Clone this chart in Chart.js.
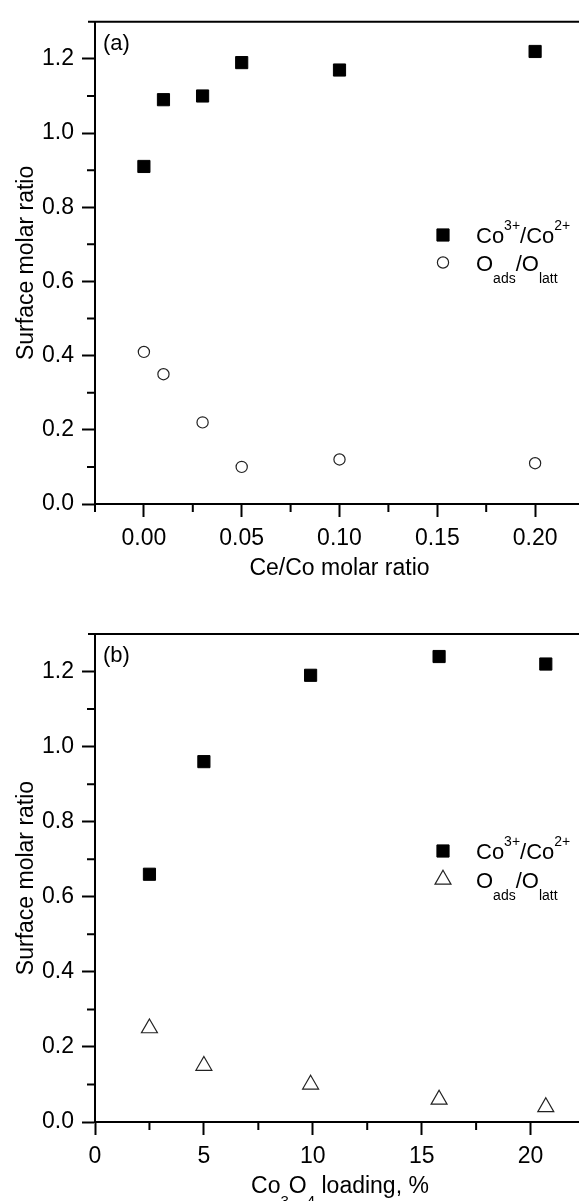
<!DOCTYPE html>
<html>
<head>
<meta charset="utf-8">
<script src="https://cdn.jsdelivr.net/npm/chart.js@4.4.1/dist/chart.umd.min.js"></script>
<style>
    html, body { margin: 0; padding: 0; background: #fff; overflow: hidden; }
    canvas { display: block; }
</style>
</head>
<body>
<canvas id="chartA" width="600" height="600"></canvas>
<canvas id="chartB" width="600" height="601"></canvas>
<script>
// (a) surface ratios against Ce/Co molar ratio
const ceCoRatio = [0, 0.01, 0.03, 0.05, 0.10, 0.20]
const cobaltA = [0.91, 1.09, 1.10, 1.19, 1.17, 1.22]
const oxygenA = [0.41, 0.35, 0.22, 0.10, 0.12, 0.11]

// (b) surface ratios against Co3O4 loading
const loading = [2.5, 5.0, 9.9, 15.8, 20.7]
const cobaltB = [0.66, 0.96, 1.19, 1.24, 1.22]
const oxygenB = [0.25, 0.15, 0.10, 0.06, 0.04]

const yTicks = [0, 0.2, 0.4, 0.6, 0.8, 1.0, 1.2]
const yMinor = [0.1, 0.3, 0.5, 0.7, 0.9, 1.1]
const xTicksA = [0, 0.05, 0.10, 0.15, 0.20]
const xMinorA = [-0.025, 0.025, 0.075, 0.125, 0.175, 0.225]
const xTicksB = [0, 5, 10, 15, 20]
const xMinorB = [2.5, 7.5, 12.5, 17.5, 22.5]

// rich text pieces: [text, shift] with 1 = superscript, -1 = subscript
const cobaltLabel = [['Co', 0], ['3+', 1], ['/Co', 0], ['2+', 1]]
const oxygenLabel = [['O', 0], ['ads', -1], ['/O', 0], ['latt', -1]]
const loadingTitle = [['Co', 0], ['3', -1], ['O', 0], ['4', -1], [' loading, %', 0]]

const FONT = '"Liberation Sans", Arial, Helvetica, sans-serif'

function drawRich(ctx, parts, x, y, size, align) {
    const small = Math.round(size * 0.64)
    const widths = parts.map(([t, s]) => {
        ctx.font = (s ? small : size) + 'px ' + FONT
        return ctx.measureText(t).width
    })
    const total = widths.reduce((a, b) => a + b, 0)
    let cx = align === 'center' ? x - total / 2 : x
    ctx.textAlign = 'left'
    ctx.textBaseline = 'alphabetic'
    parts.forEach(([t, s], i) => {
        ctx.font = (s ? small : size) + 'px ' + FONT
        const dy = s === 1 ? -size * 0.6 : s === -1 ? size * 0.55 : 0
        ctx.fillText(t, cx, y + dy)
        cx += widths[i]
    })
}

// frame, minor ticks, panel letter and legend
const panelDecor = {
    id: 'panelDecor',
    afterDraw(chart, args, opts) {
        const {ctx, chartArea: area} = chart
        const x = chart.scales.x
        const y = chart.scales.y
        ctx.save()
        ctx.strokeStyle = '#000'
        ctx.lineWidth = 2
        ctx.beginPath()
        ctx.moveTo(area.left - 7, area.top)
        ctx.lineTo(area.right, area.top)
        ctx.lineTo(area.right, area.bottom)
        ctx.stroke()

        ctx.beginPath()
        opts.xMinor.forEach(v => {
            const px = x.getPixelForValue(v)
            ctx.moveTo(px, area.bottom)
            ctx.lineTo(px, area.bottom + 8)
        })
        opts.yMinor.forEach(v => {
            const py = y.getPixelForValue(v)
            ctx.moveTo(area.left, py)
            ctx.lineTo(area.left - 8, py)
        })
        ctx.stroke()

        ctx.fillStyle = '#000'
        ctx.font = '22px ' + FONT
        ctx.textAlign = 'left'
        ctx.textBaseline = 'alphabetic'
        ctx.fillText(opts.label, area.left + 8, area.top + 28)

        chart.data.datasets.forEach((ds, i) => {
            const my = opts.legendY + i * opts.legendGap
            ctx.fillStyle = ds.backgroundColor
            ctx.strokeStyle = ds.borderColor
            ctx.lineWidth = ds.borderWidth
            Chart.helpers.drawPoint(ctx, {
                pointStyle: ds.pointStyle, radius: ds.pointRadius,
                borderWidth: ds.borderWidth, rotation: 0
            }, opts.legendX, my)
            ctx.fillStyle = '#000'
            drawRich(ctx, opts.legendText[i], opts.legendX + 33, my + 8, 22, 'left')
        })

        if (opts.xTitle) {
            ctx.fillStyle = '#000'
            drawRich(ctx, opts.xTitle, (area.left + area.right) / 2, opts.xTitleY, 23, 'center')
        }
        ctx.restore()
    }
}

const tickFont = {family: FONT, size: 23}

function axisX(min, max, ticks, height, fmt, title) {
    return {
        type: 'linear', min: min, max: max,
        afterBuildTicks: s => { s.ticks = ticks.map(v => ({value: v})) },
        afterFit: s => { s.height = height },
        border: {display: true, color: '#000', width: 2},
        grid: {drawOnChartArea: false, drawTicks: true, tickLength: 13, tickColor: '#000', tickWidth: 2},
        ticks: {color: '#000', font: tickFont, padding: 8, maxRotation: 0, autoSkip: false, callback: fmt},
        title: {
            display: !!title, text: title || '', color: '#000', font: tickFont,
            padding: {top: 0, bottom: 18}
        }
    }
}

function axisY() {
    return {
        type: 'linear', min: 0, max: 1.3,
        afterBuildTicks: s => { s.ticks = yTicks.map(v => ({value: v})) },
        afterFit: s => { s.width = 95 },
        border: {display: true, color: '#000', width: 2},
        grid: {drawOnChartArea: false, drawTicks: true, tickLength: 13, tickColor: '#000', tickWidth: 2},
        ticks: {color: '#000', font: tickFont, padding: 8, autoSkip: false, callback: v => v.toFixed(1)},
        title: {
            display: true, text: 'Surface molar ratio', color: '#000', font: tickFont,
            padding: {top: 13, bottom: 0}
        }
    }
}

const squareSet = (xs, ys) => ({
    label: 'Co3+/Co2+',
    data: xs.map((v, i) => ({x: v, y: ys[i]})),
    pointStyle: 'rect', pointRadius: 8.6,
    backgroundColor: '#000', borderColor: '#000', borderWidth: 1
})

new Chart(document.getElementById('chartA'), {
    type: 'scatter',
    data: {
        datasets: [
            squareSet(ceCoRatio, cobaltA),
            {
                label: 'Oads/Olatt',
                data: ceCoRatio.map((v, i) => ({x: v, y: oxygenA[i]})),
                pointStyle: 'circle', pointRadius: 5.6,
                backgroundColor: '#fff', borderColor: '#222', borderWidth: 1.2
            }
        ]
    },
    options: {
        responsive: false,
        animation: false,
        layout: {padding: {top: 16, right: 16, bottom: 0, left: 0}},
        scales: {
            x: axisX(-0.025, 0.225, xTicksA, 96, v => v.toFixed(2), 'Ce/Co molar ratio'),
            y: axisY()
        },
        plugins: {
            legend: {display: false},
            tooltip: {enabled: false},
            panelDecor: {
                label: '(a)', xMinor: xMinorA, yMinor: yMinor,
                legendX: 443, legendY: 235, legendGap: 27.5,
                legendText: [cobaltLabel, oxygenLabel]
            }
        }
    },
    plugins: [panelDecor]
});

new Chart(document.getElementById('chartB'), {
    type: 'scatter',
    data: {
        datasets: [
            squareSet(loading, cobaltB),
            {
                label: 'Oads/Olatt',
                data: loading.map((v, i) => ({x: v, y: oxygenB[i]})),
                pointStyle: 'triangle', pointRadius: 9.2,
                backgroundColor: '#fff', borderColor: '#222', borderWidth: 1.2
            }
        ]
    },
    options: {
        responsive: false,
        animation: false,
        layout: {padding: {top: 34, right: 15, bottom: 0, left: 0}},
        scales: {
            x: axisX(0, 22.5, xTicksB, 79, v => String(v), null),
            y: axisY()
        },
        plugins: {
            legend: {display: false},
            tooltip: {enabled: false},
            panelDecor: {
                label: '(b)', xMinor: xMinorB, yMinor: yMinor,
                legendX: 443, legendY: 251, legendGap: 28.5,
                legendText: [cobaltLabel, oxygenLabel],
                xTitle: loadingTitle, xTitleY: 593
            }
        }
    },
    plugins: [panelDecor]
});
</script>
</body>
</html>
